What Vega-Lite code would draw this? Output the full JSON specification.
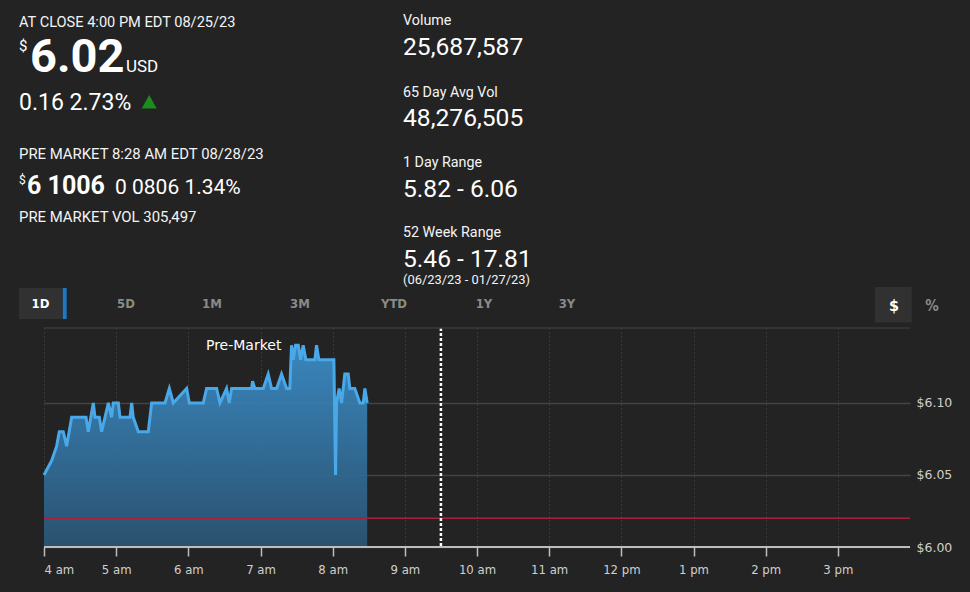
{
  "$schema": "https://vega.github.io/schema/vega-lite/v6.json",
  "width": 866,
  "height": 219,
  "autosize": {"type": "none"},
  "padding": {"left": 44, "top": 328, "right": 60, "bottom": 45},
  "background": "#232323",
  "config": {"view": {"stroke": null}},
  "datasets": {
    "price": [
      {"t": "2023-08-28T04:00:00", "p": 6.05},
      {"t": "2023-08-28T04:06:24", "p": 6.06},
      {"t": "2023-08-28T04:10:30", "p": 6.07},
      {"t": "2023-08-28T04:12:42", "p": 6.08},
      {"t": "2023-08-28T04:16:00", "p": 6.08},
      {"t": "2023-08-28T04:18:48", "p": 6.07},
      {"t": "2023-08-28T04:23:00", "p": 6.09},
      {"t": "2023-08-28T04:34:54", "p": 6.09},
      {"t": "2023-08-28T04:36:48", "p": 6.08},
      {"t": "2023-08-28T04:41:00", "p": 6.10},
      {"t": "2023-08-28T04:42:24", "p": 6.09},
      {"t": "2023-08-28T04:46:00", "p": 6.09},
      {"t": "2023-08-28T04:47:54", "p": 6.08},
      {"t": "2023-08-28T04:53:30", "p": 6.10},
      {"t": "2023-08-28T04:56:12", "p": 6.09},
      {"t": "2023-08-28T04:57:36", "p": 6.10},
      {"t": "2023-08-28T05:01:48", "p": 6.10},
      {"t": "2023-08-28T05:03:12", "p": 6.09},
      {"t": "2023-08-28T05:11:30", "p": 6.09},
      {"t": "2023-08-28T05:12:54", "p": 6.10},
      {"t": "2023-08-28T05:14:12", "p": 6.09},
      {"t": "2023-08-28T05:18:24", "p": 6.08},
      {"t": "2023-08-28T05:26:42", "p": 6.08},
      {"t": "2023-08-28T05:29:30", "p": 6.10},
      {"t": "2023-08-28T05:40:36", "p": 6.10},
      {"t": "2023-08-28T05:44:12", "p": 6.11},
      {"t": "2023-08-28T05:47:30", "p": 6.10},
      {"t": "2023-08-28T05:58:36", "p": 6.11},
      {"t": "2023-08-28T06:00:48", "p": 6.10},
      {"t": "2023-08-28T06:12:24", "p": 6.10},
      {"t": "2023-08-28T06:15:12", "p": 6.11},
      {"t": "2023-08-28T06:23:30", "p": 6.11},
      {"t": "2023-08-28T06:26:18", "p": 6.10},
      {"t": "2023-08-28T06:31:48", "p": 6.11},
      {"t": "2023-08-28T06:34:00", "p": 6.10},
      {"t": "2023-08-28T06:36:00", "p": 6.11},
      {"t": "2023-08-28T06:52:36", "p": 6.11},
      {"t": "2023-08-28T06:53:24", "p": 6.115},
      {"t": "2023-08-28T06:55:18", "p": 6.11},
      {"t": "2023-08-28T07:02:18", "p": 6.11},
      {"t": "2023-08-28T07:06:24", "p": 6.12},
      {"t": "2023-08-28T07:09:12", "p": 6.11},
      {"t": "2023-08-28T07:13:24", "p": 6.11},
      {"t": "2023-08-28T07:17:30", "p": 6.12},
      {"t": "2023-08-28T07:21:42", "p": 6.11},
      {"t": "2023-08-28T07:24:24", "p": 6.11},
      {"t": "2023-08-28T07:25:48", "p": 6.14},
      {"t": "2023-08-28T07:27:12", "p": 6.13},
      {"t": "2023-08-28T07:29:06", "p": 6.14},
      {"t": "2023-08-28T07:31:24", "p": 6.14},
      {"t": "2023-08-28T07:33:18", "p": 6.13},
      {"t": "2023-08-28T07:35:30", "p": 6.14},
      {"t": "2023-08-28T07:37:42", "p": 6.13},
      {"t": "2023-08-28T07:45:12", "p": 6.13},
      {"t": "2023-08-28T07:46:36", "p": 6.14},
      {"t": "2023-08-28T07:48:30", "p": 6.13},
      {"t": "2023-08-28T08:01:00", "p": 6.13},
      {"t": "2023-08-28T08:02:24", "p": 6.05},
      {"t": "2023-08-28T08:03:12", "p": 6.10},
      {"t": "2023-08-28T08:05:24", "p": 6.11},
      {"t": "2023-08-28T08:07:24", "p": 6.10},
      {"t": "2023-08-28T08:10:06", "p": 6.12},
      {"t": "2023-08-28T08:12:54", "p": 6.12},
      {"t": "2023-08-28T08:14:18", "p": 6.11},
      {"t": "2023-08-28T08:18:24", "p": 6.11},
      {"t": "2023-08-28T08:22:36", "p": 6.10},
      {"t": "2023-08-28T08:25:24", "p": 6.10},
      {"t": "2023-08-28T08:26:48", "p": 6.11},
      {"t": "2023-08-28T08:28:42", "p": 6.10}
    ]
  },
  "layer": [
    {
      "data": {"name": "price"},
      "mark": {"type": "area", "fillOpacity": 0.9, "color": {"gradient": "linear", "x1": 0, "y1": 0, "x2": 0, "y2": 1, "stops": [{"offset": 0, "color": "#3b91ce"}, {"offset": 1, "color": "#2b5677"}]}},
      "encoding": {
        "x": {
          "field": "t", "type": "temporal",
          "scale": {"domain": [{"year": 2023, "month": 8, "date": 28, "hours": 4}, {"year": 2023, "month": 8, "date": 28, "hours": 16}]},
          "axis": {
            "title": null,
            "values": [
              {"year": 2023, "month": 8, "date": 28, "hours": 4},
              {"year": 2023, "month": 8, "date": 28, "hours": 5},
              {"year": 2023, "month": 8, "date": 28, "hours": 6},
              {"year": 2023, "month": 8, "date": 28, "hours": 7},
              {"year": 2023, "month": 8, "date": 28, "hours": 8},
              {"year": 2023, "month": 8, "date": 28, "hours": 9},
              {"year": 2023, "month": 8, "date": 28, "hours": 10},
              {"year": 2023, "month": 8, "date": 28, "hours": 11},
              {"year": 2023, "month": 8, "date": 28, "hours": 12},
              {"year": 2023, "month": 8, "date": 28, "hours": 13},
              {"year": 2023, "month": 8, "date": 28, "hours": 14},
              {"year": 2023, "month": 8, "date": 28, "hours": 15}
            ],
            "labelExpr": "timeFormat(datum.value, '%-I') + ' ' + (hours(datum.value) < 12 ? 'am' : 'pm')",
            "grid": true, "gridColor": "#4f4f4f", "gridDash": [1, 3], "gridWidth": 1,
            "domain": false,
            "tickColor": "#bdbdbd", "tickSize": 9, "tickWidth": 1.5,
            "labelColor": "#cfcfcf", "labelFont": "DejaVu Sans Condensed", "labelFontSize": 13, "labelPadding": 7
          }
        },
        "y": {
          "field": "p", "type": "quantitative",
          "scale": {"domain": [6.0, 6.152], "zero": false, "nice": false},
          "axis": {
            "title": null, "orient": "right", "values": [6.0, 6.05, 6.1], "format": "$.2f",
            "grid": true, "gridColor": "#444444", "gridWidth": 1.5,
            "ticks": false, "domain": false, "labelPadding": 6,
            "labelColor": "#cfcfcf", "labelFont": "DejaVu Sans", "labelFontSize": 12.5
          }
        },
        "y2": {"datum": 6.0}
      }
    },
    {
      "data": {"name": "price"},
      "mark": {"type": "line", "color": "#49a8e8", "strokeWidth": 3},
      "encoding": {
        "x": {"field": "t", "type": "temporal"},
        "y": {"field": "p", "type": "quantitative"}
      }
    },
    {
      "data": {"values": [{"level": 6.02}]},
      "mark": {"type": "rule", "color": "#a8213f", "strokeWidth": 1.5},
      "encoding": {"y": {"field": "level", "type": "quantitative"}}
    },
    {
      "data": {"values": [{"open": "2023-08-28T09:30:00"}]},
      "mark": {"type": "rule", "color": "#ffffff", "strokeWidth": 2.5, "strokeDash": [3, 2]},
      "encoding": {"x": {"field": "open", "type": "temporal"}}
    },
    {
      "data": {"values": [{"level": 6.0}]},
      "mark": {"type": "rule", "color": "#bdbdbd", "strokeWidth": 2},
      "encoding": {"y": {"field": "level", "type": "quantitative"}}
    },
    {
      "data": {"values": [{"level": 6.152}]},
      "mark": {"type": "rule", "color": "#3a3a3a", "strokeWidth": 1.5},
      "encoding": {"y": {"field": "level", "type": "quantitative"}}
    },
    {
      "data": {"values": [{"label": "Pre-Market", "t": "2023-08-28T06:46:00", "p": 6.1364}]},
      "mark": {"type": "text", "align": "center", "baseline": "alphabetic", "font": "DejaVu Sans", "fontSize": 14, "color": "#ffffff"},
      "encoding": {
        "x": {"field": "t", "type": "temporal"},
        "y": {"field": "p", "type": "quantitative"},
        "text": {"field": "label"}
      }
    },
    {
      "data": {"values": [{"label": "AT CLOSE 4:00 PM EDT 08/25/23"}]},
      "mark": {"type": "text", "x": -25, "y": -301, "align": "left", "baseline": "alphabetic", "font": "Roboto", "fontSize": 14.6, "color": "#f4f4f4"},
      "encoding": {"text": {"field": "label"}}
    },
    {
      "data": {"values": [{"label": "$"}]},
      "mark": {"type": "text", "x": -25, "y": -277, "align": "left", "baseline": "alphabetic", "font": "Roboto", "fontSize": 15, "color": "#ffffff"},
      "encoding": {"text": {"field": "label"}}
    },
    {
      "data": {"values": [{"label": "6.02"}]},
      "mark": {"type": "text", "x": -14, "y": -256.5, "align": "left", "baseline": "alphabetic", "font": "Roboto", "fontWeight": "bold", "fontSize": 47, "color": "#ffffff"},
      "encoding": {"text": {"field": "label"}}
    },
    {
      "data": {"values": [{"label": "USD"}]},
      "mark": {"type": "text", "x": 82, "y": -256.5, "align": "left", "baseline": "alphabetic", "font": "Roboto", "fontSize": 17, "color": "#ffffff"},
      "encoding": {"text": {"field": "label"}}
    },
    {
      "data": {"values": [{"label": "0.16 2.73%"}]},
      "mark": {"type": "text", "x": -25, "y": -218.5, "align": "left", "baseline": "alphabetic", "font": "Roboto", "fontSize": 23, "color": "#ffffff"},
      "encoding": {"text": {"field": "label"}}
    },
    {
      "data": {"values": [{"label": "up"}]},
      "mark": {"type": "point", "x": 105.2, "y": -226.3, "shape": "M0,-0.9L1,0.9L-1,0.9Z", "size": 225, "filled": true, "opacity": 1, "color": "#1c8c1c"},
      "encoding": {}
    },
    {
      "data": {"values": [{"label": "separator"}]},
      "mark": {"type": "rule", "x": -25, "x2": 332, "y": -200, "y2": -200, "color": "#5c5c5c", "strokeWidth": 1},
      "encoding": {}
    },
    {
      "data": {"values": [{"label": "PRE MARKET 8:28 AM EDT 08/28/23"}]},
      "mark": {"type": "text", "x": -25, "y": -169.5, "align": "left", "baseline": "alphabetic", "font": "Roboto", "fontSize": 14.9, "color": "#f4f4f4"},
      "encoding": {"text": {"field": "label"}}
    },
    {
      "data": {"values": [{"label": "$"}]},
      "mark": {"type": "text", "x": -25, "y": -144, "align": "left", "baseline": "alphabetic", "font": "Roboto", "fontSize": 12, "color": "#ffffff"},
      "encoding": {"text": {"field": "label"}}
    },
    {
      "data": {"values": [{"label": "6 1006"}]},
      "mark": {"type": "text", "x": -17, "y": -134, "align": "left", "baseline": "alphabetic", "font": "Roboto", "fontWeight": "bold", "fontSize": 25, "color": "#ffffff"},
      "encoding": {"text": {"field": "label"}}
    },
    {
      "data": {"values": [{"label": "0 0806 1.34%"}]},
      "mark": {"type": "text", "x": 71, "y": -134, "align": "left", "baseline": "alphabetic", "font": "Roboto", "fontSize": 21, "color": "#ffffff"},
      "encoding": {"text": {"field": "label"}}
    },
    {
      "data": {"values": [{"label": "PRE MARKET VOL 305,497"}]},
      "mark": {"type": "text", "x": -25, "y": -106, "align": "left", "baseline": "alphabetic", "font": "Roboto", "fontSize": 14.9, "color": "#f4f4f4"},
      "encoding": {"text": {"field": "label"}}
    },
    {
      "data": {"values": [{"label": "Volume"}]},
      "mark": {"type": "text", "x": 359, "y": -303, "align": "left", "baseline": "alphabetic", "font": "Roboto", "fontSize": 14.3, "color": "#f4f4f4"},
      "encoding": {"text": {"field": "label"}}
    },
    {
      "data": {"values": [{"label": "25,687,587"}]},
      "mark": {"type": "text", "x": 359, "y": -273, "align": "left", "baseline": "alphabetic", "font": "Roboto", "fontSize": 24.6, "color": "#ffffff"},
      "encoding": {"text": {"field": "label"}}
    },
    {
      "data": {"values": [{"label": "65 Day Avg Vol"}]},
      "mark": {"type": "text", "x": 359, "y": -231.5, "align": "left", "baseline": "alphabetic", "font": "Roboto", "fontSize": 14.3, "color": "#f4f4f4"},
      "encoding": {"text": {"field": "label"}}
    },
    {
      "data": {"values": [{"label": "48,276,505"}]},
      "mark": {"type": "text", "x": 359, "y": -202, "align": "left", "baseline": "alphabetic", "font": "Roboto", "fontSize": 24.6, "color": "#ffffff"},
      "encoding": {"text": {"field": "label"}}
    },
    {
      "data": {"values": [{"label": "1 Day Range"}]},
      "mark": {"type": "text", "x": 359, "y": -161.5, "align": "left", "baseline": "alphabetic", "font": "Roboto", "fontSize": 14.3, "color": "#f4f4f4"},
      "encoding": {"text": {"field": "label"}}
    },
    {
      "data": {"values": [{"label": "5.82 - 6.06"}]},
      "mark": {"type": "text", "x": 359, "y": -131.5, "align": "left", "baseline": "alphabetic", "font": "Roboto", "fontSize": 24.6, "color": "#ffffff"},
      "encoding": {"text": {"field": "label"}}
    },
    {
      "data": {"values": [{"label": "52 Week Range"}]},
      "mark": {"type": "text", "x": 359, "y": -91.5, "align": "left", "baseline": "alphabetic", "font": "Roboto", "fontSize": 14.3, "color": "#f4f4f4"},
      "encoding": {"text": {"field": "label"}}
    },
    {
      "data": {"values": [{"label": "5.46 - 17.81"}]},
      "mark": {"type": "text", "x": 359, "y": -61.5, "align": "left", "baseline": "alphabetic", "font": "Roboto", "fontSize": 24.6, "color": "#ffffff"},
      "encoding": {"text": {"field": "label"}}
    },
    {
      "data": {"values": [{"label": "(06/23/23 - 01/27/23)"}]},
      "mark": {"type": "text", "x": 359, "y": -44, "align": "left", "baseline": "alphabetic", "font": "Roboto", "fontSize": 12.9, "color": "#f4f4f4"},
      "encoding": {"text": {"field": "label"}}
    },
    {
      "data": {"values": [{"label": "tab box"}]},
      "mark": {"type": "rect", "x": -25, "x2": 18, "y": -40, "y2": -9, "color": "#313131"},
      "encoding": {}
    },
    {
      "data": {"values": [{"label": "tab marker"}]},
      "mark": {"type": "rect", "x": 18.7, "x2": 22.7, "y": -40, "y2": -9, "color": "#1f78c1"},
      "encoding": {}
    },
    {
      "data": {"values": [{"label": "unit box"}]},
      "mark": {"type": "rect", "x": 831, "x2": 867.7, "y": -41, "y2": -5.5, "color": "#313131"},
      "encoding": {}
    },
    {
      "data": {"values": [{"label": "1D"}]},
      "mark": {"type": "text", "x": -3.5, "y": -20, "align": "center", "baseline": "alphabetic", "font": "DejaVu Sans Condensed", "fontWeight": "bold", "fontSize": 13, "color": "#ffffff"},
      "encoding": {"text": {"field": "label"}}
    },
    {
      "data": {"values": [{"label": "5D"}]},
      "mark": {"type": "text", "x": 82, "y": -20, "align": "center", "baseline": "alphabetic", "font": "DejaVu Sans Condensed", "fontWeight": "bold", "fontSize": 13, "color": "#8a8a8a"},
      "encoding": {"text": {"field": "label"}}
    },
    {
      "data": {"values": [{"label": "1M"}]},
      "mark": {"type": "text", "x": 168, "y": -20, "align": "center", "baseline": "alphabetic", "font": "DejaVu Sans Condensed", "fontWeight": "bold", "fontSize": 13, "color": "#8a8a8a"},
      "encoding": {"text": {"field": "label"}}
    },
    {
      "data": {"values": [{"label": "3M"}]},
      "mark": {"type": "text", "x": 256, "y": -20, "align": "center", "baseline": "alphabetic", "font": "DejaVu Sans Condensed", "fontWeight": "bold", "fontSize": 13, "color": "#8a8a8a"},
      "encoding": {"text": {"field": "label"}}
    },
    {
      "data": {"values": [{"label": "YTD"}]},
      "mark": {"type": "text", "x": 350, "y": -20, "align": "center", "baseline": "alphabetic", "font": "DejaVu Sans Condensed", "fontWeight": "bold", "fontSize": 13, "color": "#8a8a8a"},
      "encoding": {"text": {"field": "label"}}
    },
    {
      "data": {"values": [{"label": "1Y"}]},
      "mark": {"type": "text", "x": 440, "y": -20, "align": "center", "baseline": "alphabetic", "font": "DejaVu Sans Condensed", "fontWeight": "bold", "fontSize": 13, "color": "#8a8a8a"},
      "encoding": {"text": {"field": "label"}}
    },
    {
      "data": {"values": [{"label": "3Y"}]},
      "mark": {"type": "text", "x": 523, "y": -20, "align": "center", "baseline": "alphabetic", "font": "DejaVu Sans Condensed", "fontWeight": "bold", "fontSize": 13, "color": "#8a8a8a"},
      "encoding": {"text": {"field": "label"}}
    },
    {
      "data": {"values": [{"label": "$"}]},
      "mark": {"type": "text", "x": 850, "y": -17, "align": "center", "baseline": "alphabetic", "font": "DejaVu Sans Condensed", "fontWeight": "bold", "fontSize": 16, "color": "#ffffff"},
      "encoding": {"text": {"field": "label"}}
    },
    {
      "data": {"values": [{"label": "%"}]},
      "mark": {"type": "text", "x": 888, "y": -17, "align": "center", "baseline": "alphabetic", "font": "DejaVu Sans Condensed", "fontWeight": "bold", "fontSize": 15, "color": "#8a8a8a"},
      "encoding": {"text": {"field": "label"}}
    }
  ]
}
